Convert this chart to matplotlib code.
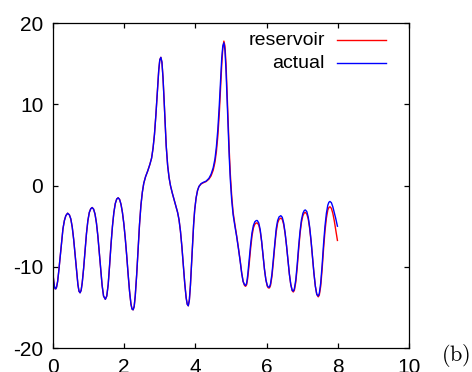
import numpy as np
import matplotlib
matplotlib.use("Agg")
import matplotlib.pyplot as plt

# ================= Daten =================
# bis t ~ 4.1 liegen beide Kurven aufeinander
t_early = [0.00, 0.02, 0.04, 0.06, 0.08, 0.10, 0.13, 0.16, 0.20, 0.24,
           0.28, 0.32, 0.36, 0.41, 0.46, 0.50, 0.54, 0.58, 0.62, 0.66,
           0.70, 0.73, 0.76, 0.79, 0.82, 0.86, 0.90, 0.94, 0.98, 1.02,
           1.06, 1.10, 1.14, 1.18, 1.22, 1.26, 1.30, 1.34, 1.38, 1.42,
           1.47, 1.51, 1.55, 1.59, 1.63, 1.67, 1.71, 1.75, 1.79, 1.83,
           1.87, 1.91, 1.95, 1.99, 2.03, 2.07, 2.11, 2.15, 2.19, 2.22,
           2.25, 2.28, 2.31, 2.35, 2.39, 2.43, 2.47, 2.51, 2.55, 2.60,
           2.66, 2.72, 2.77, 2.81, 2.85, 2.89, 2.93, 2.97, 3.00, 3.03,
           3.06, 3.09, 3.12, 3.15, 3.18, 3.22, 3.26, 3.30, 3.35, 3.40,
           3.45, 3.50, 3.54, 3.58, 3.62, 3.66, 3.70, 3.74, 3.77, 3.80,
           3.83, 3.86, 3.89, 3.92, 3.95, 3.98, 4.02, 4.06, 4.10]
y_early = [-10.9, -11.8, -12.4, -12.7, -12.7, -12.5, -11.8, -10.6, -8.8, -6.9,
           -5.3, -4.3, -3.7, -3.4, -3.6, -4.1, -5.1, -6.6, -8.5, -10.5,
           -12.2, -13.0, -13.2, -12.9, -12.0, -10.2, -8.0, -5.9, -4.3, -3.3,
           -2.85, -2.7, -2.9, -3.5, -4.6, -6.2, -8.2, -10.3, -12.3, -13.6,
           -14.0, -13.6, -12.2, -9.8, -7.2, -5.0, -3.3, -2.2, -1.65, -1.5,
           -1.7, -2.3, -3.3, -4.7, -6.5, -8.6, -10.9, -13.0, -14.6, -15.2,
           -15.3, -14.9, -13.6, -11.0, -7.8, -4.8, -2.4, -0.8, 0.3, 1.1,
           1.8, 2.6, 3.4, 4.6, 6.3, 8.7, 11.5, 14.2, 15.5, 15.8,
           15.2, 13.3, 10.6, 7.6, 4.9, 2.5, 1.0, 0.0, -0.9, -1.7,
           -2.5, -3.3, -4.2, -5.6, -7.5, -9.8, -12.0, -13.8, -14.6, -14.8,
           -14.1, -12.3, -9.8, -7.1, -4.8, -3.0, -1.5, -0.6, -0.1]

t_late = [4.16, 4.22, 4.30, 4.38, 4.44, 4.50, 4.55, 4.59, 4.63, 4.67,
          4.71, 4.74, 4.77, 4.80, 4.83, 4.86, 4.89, 4.92, 4.95, 4.98,
          5.02, 5.06, 5.11, 5.16, 5.21, 5.26, 5.30, 5.34, 5.38, 5.41,
          5.44, 5.47, 5.51, 5.55, 5.59, 5.63, 5.67, 5.71, 5.74, 5.78,
          5.82, 5.86, 5.90, 5.94, 5.98, 6.02, 6.05, 6.08, 6.11, 6.15,
          6.19, 6.23, 6.27, 6.31, 6.35, 6.40, 6.44, 6.48, 6.52, 6.56,
          6.60, 6.64, 6.68, 6.72, 6.75, 6.78, 6.82, 6.86, 6.90, 6.94,
          6.98, 7.02, 7.06, 7.09, 7.13, 7.17, 7.21, 7.25, 7.29, 7.33,
          7.37, 7.41, 7.45, 7.48, 7.52, 7.56, 7.60, 7.64, 7.68, 7.72,
          7.75, 7.78, 7.82, 7.86, 7.90, 7.94, 7.99]
actual_late = [0.25, 0.4, 0.55, 0.9, 1.4, 2.2, 3.3, 4.8, 6.9, 9.8,
               13.2, 15.7, 17.2, 17.6, 16.7, 14.2, 10.7, 7.0, 3.6, 0.8,
               -1.8, -3.6, -5.0, -6.3, -7.8, -9.4, -10.8, -11.8, -12.2, -12.3,
               -12.0, -11.0, -9.2, -7.3, -5.8, -4.9, -4.45, -4.3, -4.3, -4.6,
               -5.4, -6.8, -8.6, -10.3, -11.6, -12.3, -12.5, -12.5, -12.1, -10.9,
               -9.0, -7.0, -5.3, -4.3, -3.85, -3.7, -3.9, -4.6, -5.8, -7.4,
               -9.2, -10.9, -12.2, -12.9, -13.0, -12.7, -11.6, -9.7, -7.5, -5.6,
               -4.2, -3.4, -3.05, -3.0, -3.2, -3.9, -5.1, -6.8, -8.8, -10.8,
               -12.4, -13.4, -13.6, -13.3, -12.0, -9.8, -7.2, -5.0, -3.4, -2.4,
               -2.05, -1.95, -2.1, -2.6, -3.3, -4.0, -5.0]
reservoir_late = [0.2, 0.35, 0.5, 0.8, 1.2, 1.9, 2.9, 4.2, 6.1, 8.8,
                  12.2, 14.9, 16.9, 17.8, 17.2, 15.0, 11.6, 7.9, 4.4, 1.5,
                  -1.3, -3.3, -4.8, -6.2, -7.7, -9.3, -10.7, -11.8, -12.3, -12.4,
                  -12.2, -11.4, -9.7, -7.8, -6.2, -5.2, -4.75, -4.6, -4.6, -4.85,
                  -5.6, -6.9, -8.6, -10.3, -11.6, -12.4, -12.6, -12.6, -12.3, -11.2,
                  -9.4, -7.4, -5.7, -4.6, -4.15, -4.0, -4.15, -4.8, -5.9, -7.4,
                  -9.2, -10.9, -12.2, -12.95, -13.1, -12.9, -11.9, -10.1, -7.9, -5.9,
                  -4.5, -3.7, -3.35, -3.3, -3.5, -4.1, -5.3, -6.9, -8.9, -10.8,
                  -12.4, -13.4, -13.7, -13.5, -12.4, -10.3, -7.8, -5.6, -4.0, -3.0,
                  -2.7, -2.6, -2.8, -3.4, -4.3, -5.4, -6.75]

t = t_early + t_late
actual = y_early + actual_late
reservoir = y_early + reservoir_late

xticks = [0, 2, 4, 6, 8, 10]
yticks = [-20, -10, 0, 10, 20]

# ================= Plot =================
plt.rcParams["font.family"] = ["Liberation Sans", "DejaVu Sans"]
plt.rcParams["mathtext.fontset"] = "cm"
plt.rcParams["axes.unicode_minus"] = False

fig = plt.figure(figsize=(4.72, 3.72), dpi=100)
ax = fig.add_axes([0.1123, 0.0645, 0.7542, 0.873])

ax.plot(t, reservoir, color="#ff0000", lw=1.0)
ax.plot(t, actual, color="#0000ff", lw=1.0)

ax.set_xlim(0, 10)
ax.set_ylim(-20, 20)
ax.set_xticks(xticks)
ax.set_yticks(yticks)
ax.tick_params(direction="in", top=True, right=True, length=3.5, width=0.9,
               labelsize=15)
ax.tick_params(axis="y", pad=7)
ax.tick_params(axis="x", pad=7)
for s in ax.spines.values():
    s.set_linewidth(0.9)

# Legende im gnuplot-Stil (Text rechtsbuendig, Linie rechts)
ax.text(0.764, 0.948, "reservoir", transform=ax.transAxes, ha="right",
        va="center", fontsize=14)
ax.text(0.764, 0.877, "actual", transform=ax.transAxes, ha="right",
        va="center", fontsize=14)
ax.plot([0.799, 0.935], [0.948, 0.948], color="#ff0000", lw=1.0,
        transform=ax.transAxes)
ax.plot([0.799, 0.935], [0.877, 0.877], color="#0000ff", lw=1.0,
        transform=ax.transAxes)

fig.text(0.934, 0.045, r"$\mathrm{(b)}$", ha="left", va="center", fontsize=16)

fig.savefig("out.png", dpi=100)
plt.close()
